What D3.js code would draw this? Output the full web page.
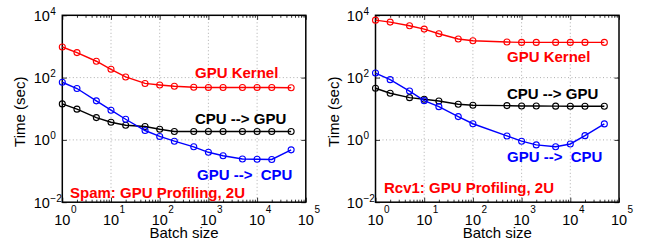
<!DOCTYPE html>
<html>
<head>
<meta charset="utf-8">
<script src="https://cdn.jsdelivr.net/npm/d3@7"></script>
<style>
  body { margin: 0; background: #fff; }
  svg { display: block; font-family: "Liberation Sans", Arial, sans-serif; }
</style>
</head>
<body>
<svg width="648" height="242"></svg>
<script>
// Data (time in seconds vs batch size)
const spamBatch = [1, 2, 5, 10, 20, 50, 100, 200, 500, 1000, 2000, 5000, 10000, 20000, 50000];
const spamKernel = [960, 635, 335, 185, 105, 65, 58, 53, 49, 48, 48, 48, 48, 48, 47];
const spamCpuToGpu = [14.3, 9.7, 5.2, 3.7, 2.96, 2.69, 2.2, 1.86, 1.86, 1.86, 1.86, 1.86, 1.86, 1.86, 1.86];
const spamGpuToCpu = [71, 44.6, 17.9, 9.0, 4.6, 2.0, 1.29, 0.91, 0.6, 0.4, 0.31, 0.245, 0.24, 0.235, 0.48];

const rcv1Batch = [1, 2, 5, 10, 20, 50, 100, 500, 1000, 2000, 5000, 10000, 20000, 50000];
const rcv1Kernel = [7000, 6050, 4600, 3600, 2550, 1730, 1520, 1390, 1350, 1350, 1350, 1350, 1350, 1350];
const rcv1CpuToGpu = [45.4, 31.4, 22.7, 20.2, 17.8, 13.9, 12.9, 12.6, 12.3, 12.2, 12.1, 12.0, 12.0, 12.0];
const rcv1GpuToCpu = [140, 86, 37, 18.2, 11.7, 5.6, 3.3, 1.34, 0.91, 0.69, 0.6, 0.74, 1.37, 3.26];

const xTicks = [1, 10, 100, 1000, 10000, 100000];
const yTicks = [0.01, 1, 100, 10000];

const svg = d3.select("svg");
const plotTop = 15.3, plotBottom = 202.2, plotW = 243.5;

function drawPanel(left, batch, series, labels, title) {
  const x = d3.scaleLog().domain([1, 1e5]).range([left, left + plotW]);
  const y = d3.scaleLog().domain([1e-2, 1e4]).range([plotBottom, plotTop]);
  const g = svg.append("g");

  // dotted grid at major decades
  g.selectAll(".gx").data(xTicks.slice(1, -1)).enter().append("line")
    .attr("x1", d => x(d)).attr("x2", d => x(d)).attr("y1", plotTop).attr("y2", plotBottom)
    .attr("stroke", "#999").attr("stroke-dasharray", "1,2.5").attr("stroke-width", 0.8);
  g.selectAll(".gy").data([1, 100]).enter().append("line")
    .attr("x1", left).attr("x2", left + plotW).attr("y1", d => y(d)).attr("y2", d => y(d))
    .attr("stroke", "#999").attr("stroke-dasharray", "1,2.5").attr("stroke-width", 0.8);

  // minor ticks on x (log), inward, bottom and top
  const minor = [];
  for (let e = 0; e < 5; e++) for (let m = 2; m < 10; m++) minor.push(m * Math.pow(10, e));
  const axB = d3.axisBottom(x).tickValues(minor).tickSize(-2.5).tickFormat("");
  const axT = d3.axisTop(x).tickValues(minor).tickSize(-2.5).tickFormat("");
  const axBM = d3.axisBottom(x).tickValues(xTicks).tickSize(-4.5).tickFormat("");
  const axTM = d3.axisTop(x).tickValues(xTicks).tickSize(-4.5).tickFormat("");
  const axL = d3.axisLeft(y).tickValues(yTicks).tickSize(-4.5).tickFormat("");
  const axR = d3.axisRight(y).tickValues(yTicks).tickSize(-4.5).tickFormat("");
  [[axB, `translate(0,${plotBottom})`], [axBM, `translate(0,${plotBottom})`],
   [axT, `translate(0,${plotTop})`], [axTM, `translate(0,${plotTop})`],
   [axL, `translate(${left},0)`], [axR, `translate(${left + plotW},0)`]].forEach(([ax, tr]) => {
    const a = g.append("g").attr("transform", tr).call(ax);
    a.select(".domain").remove();
    a.selectAll("line").attr("stroke", "#000").attr("stroke-width", 0.8);
  });

  // box
  g.append("rect").attr("x", left).attr("y", plotTop).attr("width", plotW).attr("height", plotBottom - plotTop)
    .attr("fill", "none").attr("stroke", "#000").attr("stroke-width", 1.5);

  // tick labels with superscript exponents
  xTicks.forEach(t => {
    const e = Math.round(Math.log10(t));
    g.append("text").attr("x", x(t)).attr("y", plotBottom + 22.5).attr("text-anchor", "middle")
      .attr("font-size", 14.5).text("10");
    g.append("text").attr("x", x(t) + 8.6).attr("y", plotBottom + 11).attr("font-size", 10).text(e);
  });
  yTicks.forEach(t => {
    const e = Math.round(Math.log10(t));
    g.append("text").attr("x", left - 12.5).attr("y", y(t) + 5.3).attr("text-anchor", "end")
      .attr("font-size", 14.5).text("10");
    g.append("text").attr("x", left - 12).attr("y", y(t) - 0.5).attr("font-size", 10)
      .text(e < 0 ? "\u2212" + (-e) : e);
  });

  g.append("text").attr("x", left + plotW / 2).attr("y", 237.8).attr("text-anchor", "middle")
    .attr("font-size", 15).text("Batch size");
  g.append("text").attr("transform", `translate(${left - 37},${(plotTop + plotBottom) / 2 + 3}) rotate(-90)`)
    .attr("text-anchor", "middle").attr("font-size", 15).text("Time (sec)");

  // series
  const line = d3.line().x(d => x(d[0])).y(d => y(d[1]));
  series.forEach(s => {
    const pts = batch.map((b, i) => [b, s.values[i]]);
    g.append("path").datum(pts).attr("d", line).attr("fill", "none")
      .attr("stroke", s.color).attr("stroke-width", 1.4);
    g.selectAll(null).data(pts).enter().append("circle")
      .attr("cx", d => x(d[0])).attr("cy", d => y(d[1])).attr("r", 3)
      .attr("fill", "none").attr("stroke", s.color).attr("stroke-width", 1.1);
  });

  // annotations
  labels.forEach(l => {
    g.append("text").attr("x", l.x).attr("y", l.y).attr("fill", l.color)
      .attr("font-size", 15).attr("font-weight", "bold").style("white-space", "pre").text(l.text);
  });
  g.append("text").attr("x", title.x).attr("y", title.y).attr("fill", "#ff0000")
    .attr("font-size", 15).attr("font-weight", "bold").text(title.text);
}

drawPanel(62.3, spamBatch,
  [{ values: spamKernel, color: "#ff0000" },
   { values: spamCpuToGpu, color: "#000000" },
   { values: spamGpuToCpu, color: "#0000ff" }],
  [{ text: "GPU Kernel", x: 195, y: 78, color: "#ff0000" },
   { text: "CPU --> GPU", x: 195, y: 124, color: "#000000" },
   { text: "GPU -->  CPU", x: 197, y: 179.5, color: "#0000ff" }],
  { text: "Spam: GPU Profiling, 2U", x: 70, y: 197.5 });

drawPanel(375.5, rcv1Batch,
  [{ values: rcv1Kernel, color: "#ff0000" },
   { values: rcv1CpuToGpu, color: "#000000" },
   { values: rcv1GpuToCpu, color: "#0000ff" }],
  [{ text: "GPU Kernel", x: 507, y: 61.5, color: "#ff0000" },
   { text: "CPU --> GPU", x: 507, y: 98.7, color: "#000000" },
   { text: "GPU -->  CPU", x: 507, y: 162, color: "#0000ff" }],
  { text: "Rcv1: GPU Profiling, 2U", x: 384, y: 193 });
</script>
</body>
</html>
